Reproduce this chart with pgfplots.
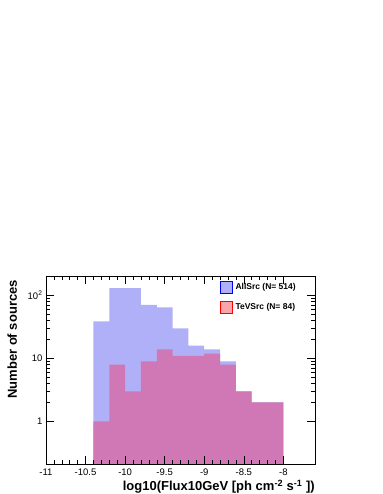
\documentclass[border=0pt]{standalone}
\usepackage{pgfplots}
\pgfplotsset{compat=1.18}
\usepackage{fontspec}
\setmainfont{Liberation Sans}

\definecolor{allfill}{RGB}{176,176,248}
\definecolor{tevfill}{RGB}{208,120,182}
\definecolor{tevlegend}{RGB}{250,165,170}

\begin{document}
\begin{tikzpicture}
\begin{axis}[
    at={(46pt,30pt)}, anchor=south west,
    scale only axis,
    width=269pt, height=188pt,
    ymode=log,
    log origin y=infty,
    xmin=-11, xmax=-7.6,
    ymin=0.21, ymax=205,
    xtick={-11,-10.5,-10,-9.5,-9,-8.5,-8},
    xticklabels={-11,-10.5,-10,-9.5,-9,-8.5,-8},
    minor x tick num=4,
    ytick={1,10,100},
    yticklabels={1,10,10\textsuperscript{2}},
    tick align=inside,
    xtick pos=both, ytick pos=both,
    major tick length=8pt, minor tick length=4pt,
    tick style={black, line width=0.5pt},
    axis line style={black, line width=0.6pt},
    ticklabel style={font=\fontsize{9.5}{11}\selectfont},
    xticklabel style={yshift=-1pt},
    axis on top,
    legend style={draw=none, fill=none, at={(0.645,0.975)}, anchor=north west,
        font=\bfseries\fontsize{8.5}{10}\selectfont, row sep=7pt, inner sep=0pt,
        nodes={inner xsep=3pt}},
    legend cell align=left,
    legend image code/.code={\draw[#1] (0pt,-6pt) rectangle (12pt,6pt);},
]
% AllSrc
\addplot[ybar interval, fill=allfill, draw=none, forget plot] coordinates {
(-10.4,39) (-10.2,132) (-10.0,131) (-9.8,71) (-9.6,65) (-9.4,30)
(-9.2,16) (-9.0,14) (-8.8,9) (-8.6,3) (-8.4,2) (-8.2,2) (-8.0,2)
};
% TeVSrc
\addplot[ybar interval, fill=tevfill, draw=none, forget plot] coordinates {
(-10.4,1) (-10.2,8) (-10.0,3) (-9.8,9) (-9.6,14) (-9.4,11)
(-9.2,11) (-9.0,12) (-8.8,8) (-8.6,3) (-8.4,2) (-8.2,2) (-8.0,2)
};
\addlegendimage{fill=allfill, draw=blue, line width=0.8pt}
\addlegendentry{AllSrc (N= 514)}
\addlegendimage{fill=tevlegend, draw=red, line width=0.8pt}
\addlegendentry{TeVSrc (N= 84)}
\end{axis}
\node[anchor=base east, inner sep=0pt, font=\bfseries\fontsize{13}{15}\selectfont]
    at (315pt,3.5pt) {log10(Flux10GeV [ph cm\textsuperscript{-2} s\textsuperscript{-1} ])};
\node[rotate=90, anchor=base east, inner sep=0pt, font=\bfseries\fontsize{13}{15}\selectfont]
    at (17pt,214pt) {Number of sources};
\pgfresetboundingbox
\useasboundingbox (0,0) rectangle (382pt,494pt);
\end{tikzpicture}
\end{document}
